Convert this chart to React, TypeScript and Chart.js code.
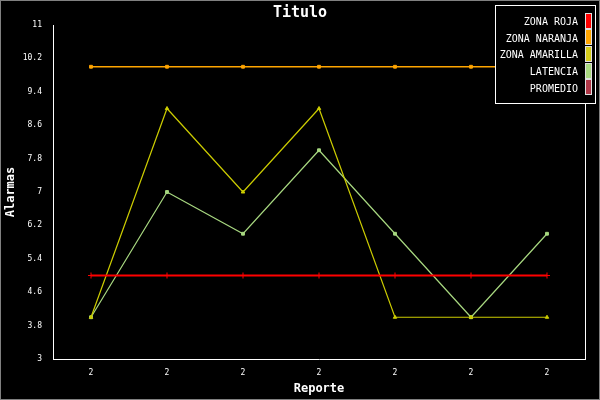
import React, { useEffect, useRef } from "react";
import { Chart, registerables } from "chart.js";

Chart.register(...registerables);

const categories = ["2", "2", "2", "2", "2", "2", "2"];
const zonaRoja = [5, 5, 5, 5, 5, 5, 5];
const zonaNaranja = [10, 10, 10, 10, 10, 10, 10];
const zonaAmarilla = [4, 9, 7, 9, 4, 4, 4];
const latencia = [4, 7, 6, 8, 6, 4, 6];
const promedio: number[] = [];
const yTicks = [3, 3.8, 4.6, 5.4, 6.2, 7, 7.8, 8.6, 9.4, 10.2, 11];
const seriesLabels = ["ZONA ROJA", "ZONA NARANJA", "ZONA AMARILLA", "LATENCIA", "PROMEDIO"];
const seriesColors = ["#ff0000", "#ffa500", "#cccc00", "#a8d880", "#b03848"];
const legendColors = ["#ff0000", "#ffa500", "#d4cc1c", "#a8d880", "#b03848"];

const MONO = "'DejaVu Sans Mono', monospace";

const framePlugin = {
  id: "frame",
  beforeDraw(chart: any) {
    const { ctx, width, height } = chart;
    ctx.save();
    ctx.fillStyle = "#000";
    ctx.fillRect(0, 0, width, height);
    ctx.restore();
  },
  afterDraw(chart: any) {
    const { ctx, width, height, chartArea } = chart;
    ctx.save();
    ctx.strokeStyle = "#fff";
    ctx.lineWidth = 1;
    ctx.beginPath();
    ctx.moveTo(Math.round(chartArea.right) + 0.5, chartArea.top);
    ctx.lineTo(Math.round(chartArea.right) + 0.5, chartArea.bottom + 1);
    ctx.stroke();
    ctx.fillStyle = "#fff";
    ctx.font = `bold 15px ${MONO}`;
    ctx.textAlign = "center";
    ctx.textBaseline = "middle";
    ctx.fillText("Titulo", 300, 13);
    const lx = 495, ly = 5, lw = 100, lh = 98;
    ctx.fillStyle = "#000";
    ctx.fillRect(lx, ly, lw, lh);
    ctx.strokeStyle = "#fff";
    ctx.strokeRect(lx + 0.5, ly + 0.5, lw, lh);
    ctx.font = `10px ${MONO}`;
    ctx.textAlign = "right";
    ctx.textBaseline = "middle";
    chart.data.datasets.forEach((ds: any, i: number) => {
      const cy = 22.5 + i * 16.7;
      ctx.fillStyle = "#fff";
      ctx.fillText(ds.label, 578, cy);
      const by = Math.round(cy - 10);
      ctx.fillStyle = legendColors[i];
      ctx.fillRect(586, by + 1, 5, 14);
      ctx.strokeStyle = "#e0e0e0";
      ctx.strokeRect(585.5, by + 0.5, 6, 15);
    });
    ctx.strokeStyle = "#808080";
    ctx.strokeRect(0.5, 0.5, width - 1, height - 1);
    ctx.restore();
  },
};

export default function App() {
  const ref = useRef<HTMLCanvasElement>(null);
  useEffect(() => {
    document.body.style.margin = "0";
    const mk = (i: number, data: number[], pointStyle: string, radius: number, bw: number) => ({
      label: seriesLabels[i],
      data,
      borderColor: seriesColors[i],
      backgroundColor: seriesColors[i],
      pointBackgroundColor: seriesColors[i],
      pointBorderColor: seriesColors[i],
      pointStyle,
      pointRadius: radius,
      pointBorderWidth: 1,
      borderWidth: bw,
      tension: 0,
      fill: false,
    });
    const chart = new Chart(ref.current!, {
      type: "line",
      data: {
        labels: categories,
        datasets: [
          mk(0, zonaRoja, "cross", 3, 2),
          mk(1, zonaNaranja, "rect", 2, 1.3),
          mk(2, zonaAmarilla, "triangle", 2, 1.2),
          mk(3, latencia, "rect", 2, 1.2),
          mk(4, promedio, "rect", 2, 1),
        ],
      },
      options: {
        responsive: false,
        animation: false,
        layout: { padding: { top: 25, right: 15, left: 0, bottom: 0 } },
        plugins: {
          legend: { display: false },
          title: { display: false },
          tooltip: { enabled: false },
        },
        scales: {
          x: {
            offset: true,
            grid: { display: false, drawTicks: false },
            border: { display: true, color: "#fff", width: 1 },
            ticks: { color: "#fff", font: { family: MONO, size: 8 }, padding: 9, maxRotation: 0, autoSkip: false },
            title: {
              display: true,
              text: "Reporte",
              color: "#fff",
              font: { family: MONO, size: 12, weight: "bold" },
              padding: { top: 0, bottom: 4 },
            },
            afterFit: (s: any) => {
              s.height = 41;
            },
          },
          y: {
            min: 3,
            max: 11,
            grid: { display: false, drawTicks: false },
            border: { display: true, color: "#fff", width: 1 },
            ticks: {
              color: "#fff",
              font: { family: MONO, size: 8 },
              padding: 11,
              callback: (v: any) => String(v),
            },
            afterBuildTicks: (s: any) => {
              s.ticks = yTicks.map((v) => ({ value: v }));
            },
            title: {
              display: true,
              text: "Alarmas",
              color: "#fff",
              font: { family: MONO, size: 12, weight: "bold" },
              padding: { top: 4, bottom: 0 },
            },
            afterFit: (s: any) => {
              s.width = 53;
            },
          },
        },
      } as any,
      plugins: [framePlugin],
    });
    return () => chart.destroy();
  }, []);
  return (
    <div style={{ width: 600, height: 400, background: "#000" }}>
      <canvas ref={ref} width={600} height={400} style={{ display: "block" }} />
    </div>
  );
}
